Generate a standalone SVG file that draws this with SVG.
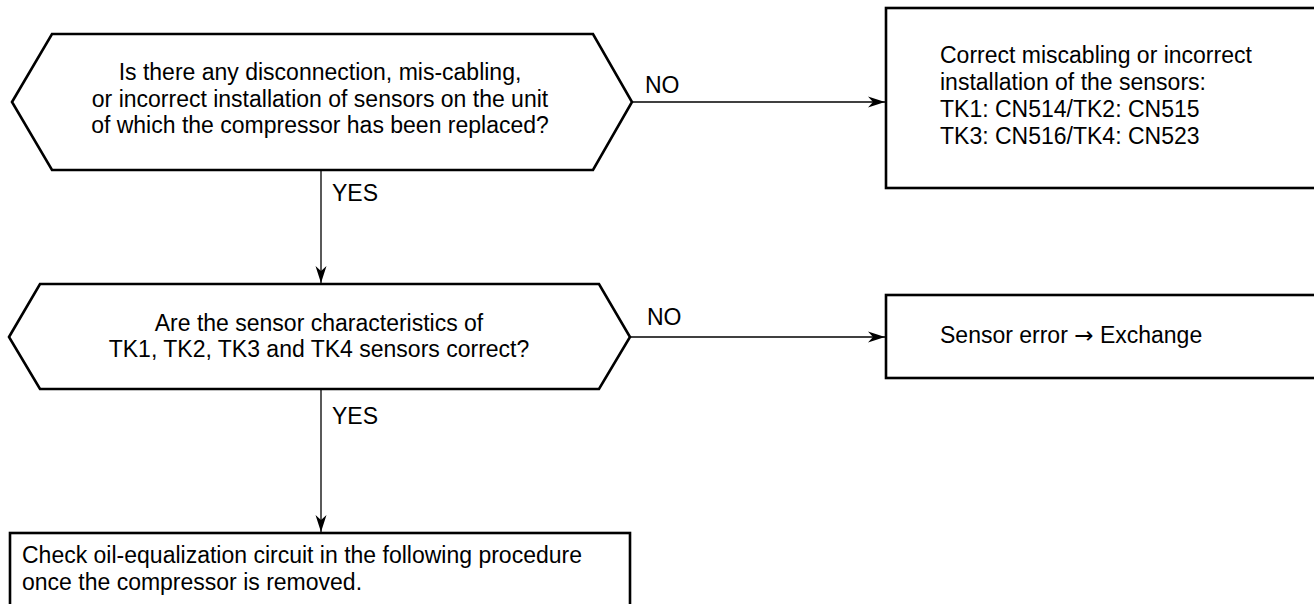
<svg xmlns="http://www.w3.org/2000/svg" width="1314" height="604" viewBox="0 0 1314 604">
<style>
.shape{fill:#fff;stroke:#000;stroke-width:2.6}
.conn{fill:none;stroke:#000;stroke-width:1.3}
text{font-family:"Liberation Sans",Arial,sans-serif;font-size:23px;fill:#000}
.c{text-anchor:middle}
.sym{font-family:"DejaVu Sans",sans-serif;font-size:23px}
</style>
<defs>
<marker id="arr" markerUnits="userSpaceOnUse" markerWidth="20" markerHeight="12" refX="17" refY="6" orient="auto">
<path d="M0,0.5 L17,6 L0,11.5 L5,6 Z" fill="#000"/>
</marker>
</defs>
<g id="connectors">
<line class="conn" x1="632" y1="102" x2="885" y2="102" marker-end="url(#arr)"/>
<line class="conn" x1="630" y1="337" x2="885" y2="337" marker-end="url(#arr)"/>
<line class="conn" x1="321" y1="170" x2="321" y2="283" marker-end="url(#arr)"/>
<line class="conn" x1="321" y1="389" x2="321" y2="532" marker-end="url(#arr)"/>
<text x="645" y="93">NO</text>
<text x="647" y="325">NO</text>
<text x="332" y="201">YES</text>
<text x="332" y="424">YES</text>
</g>
<g id="q1">
<polygon class="shape" points="12,102 52,34 593,34 632,102 593,170 52,170"/>
<text class="c" x="320" y="80">Is there any disconnection, mis-cabling,</text>
<text class="c" x="320" y="107">or incorrect installation of sensors on the unit</text>
<text class="c" x="320" y="133">of which the compressor has been replaced?</text>
</g>
<g id="fix1">
<rect class="shape" x="886" y="8" width="440" height="180"/>
<text x="940" y="63">Correct miscabling or incorrect</text>
<text x="940" y="90">installation of the sensors:</text>
<text x="940" y="117">TK1: CN514/TK2: CN515</text>
<text x="940" y="144">TK3: CN516/TK4: CN523</text>
</g>
<g id="q2">
<polygon class="shape" points="9,337 40,284 599,284 630,337 599,389 40,389"/>
<text class="c" x="319" y="331">Are the sensor characteristics of</text>
<text class="c" x="319" y="357">TK1, TK2, TK3 and TK4 sensors correct?</text>
</g>
<g id="fix2">
<rect class="shape" x="886" y="295" width="440" height="83"/>
<text x="940" y="343">Sensor error <tspan class="sym">→</tspan> Exchange</text>
</g>
<g id="check">
<rect class="shape" x="10" y="533" width="620" height="90"/>
<text x="22" y="563">Check oil-equalization circuit in the following procedure</text>
<text x="22" y="590">once the compressor is removed.</text>
</g>
</svg>
